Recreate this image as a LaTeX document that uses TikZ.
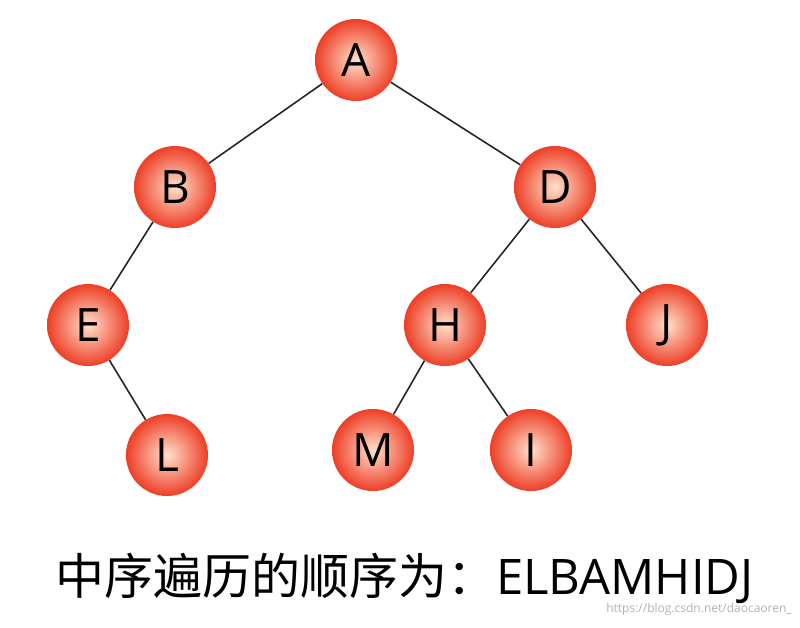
\documentclass[tikz,border=0pt]{standalone}
\usepackage{fontspec}
\setmainfont{Open Sans}
\newfontfamily\cjk{Noto Sans CJK SC}
\begin{document}
\begin{tikzpicture}[x=1pt,y=-1pt,
  nd/.style={circle,minimum size=82pt,inner sep=0pt,inner color={rgb,255:red,255;green,225;blue,205},outer color={rgb,255:red,238;green,62;blue,38},font=\fontsize{46}{46}\selectfont},
  ed/.style={line width=1.6pt,black!85}]
\useasboundingbox[fill=white] (0,0) rectangle (800,627);
\node[nd] (A) at (356,60) {A};
\node[nd] (B) at (175,187) {B};
\node[nd] (D) at (555,187) {D};
\node[nd] (E) at (88,325) {E};
\node[nd] (H) at (445,325) {H};
\node[nd] (J) at (667,325) {J};
\node[nd] (L) at (167,455) {L};
\node[nd] (M) at (373,450) {M};
\node[nd] (I) at (531,450) {I};
\draw[ed] (A) -- (B); \draw[ed] (A) -- (D);
\draw[ed] (B) -- (E); \draw[ed] (E) -- (L);
\draw[ed] (D) -- (H); \draw[ed] (D) -- (J);
\draw[ed] (H) -- (M); \draw[ed] (H) -- (I);
\node[anchor=west,inner sep=0pt,font=\fontsize{49}{49}\selectfont] (t) at (55,578) {{\cjk 中序遍历的顺序为：}ELBAMHIDJ};
\node[anchor=east,inner sep=0pt,font=\fontsize{12}{12}\selectfont,text=black!30] (w) at (792,609) {https://blog.csdn.net/daocaoren\_};
\end{tikzpicture}
\end{document}
